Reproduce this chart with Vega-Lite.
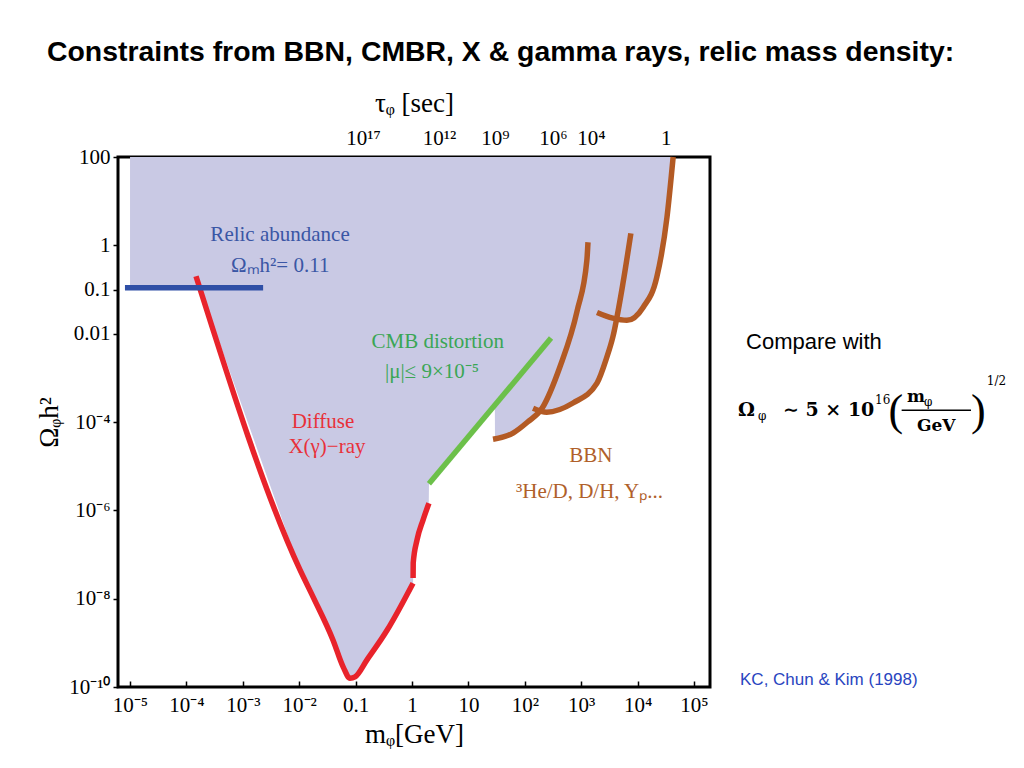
{
  "$schema": "https://vega.github.io/schema/vega-lite/v6.json",
  "width": 592,
  "height": 530,
  "autosize": {"type": "none"},
  "padding": {"left": 118, "top": 157, "right": 314, "bottom": 81},
  "background": "white",
  "title": {
    "text": "Constraints from BBN, CMBR, X & gamma rays, relic mass density:",
    "anchor": "start", "frame": "group", "dx": -71, "offset": 22,
    "font": "Liberation Sans", "fontSize": 28.4, "fontWeight": "bold", "color": "black"
  },
  "config": {
    "view": {"stroke": "black", "strokeWidth": 3},
    "axis": {
      "labelFont": "Liberation Serif", "labelFontSize": 21, "labelColor": "black",
      "titleFont": "Liberation Serif", "titleFontSize": 27, "titleFontWeight": "normal", "titleColor": "black",
      "domain": false, "grid": false, "tickColor": "black", "tickWidth": 1.5,
      "labelOverlap": false, "labelFlush": false
    }
  },
  "datasets": {
    "shade": [
      {"m": 1e-5, "omega": 0.11},
      {"m": 1.746e-4, "omega": 0.11},
      {"m": 0.01033, "omega": 4.47e-8},
      {"m": 0.01758, "omega": 1.1e-8},
      {"m": 0.0398, "omega": 1.15e-9},
      {"m": 0.0603, "omega": 2.82e-10},
      {"m": 0.0794, "omega": 1.58e-10},
      {"m": 0.0977, "omega": 1.7e-10},
      {"m": 0.158, "omega": 4.07e-10},
      {"m": 0.363, "omega": 1.95e-9},
      {"m": 1.042, "omega": 2.24e-8},
      {"m": 1.047, "omega": 2.95e-8},
      {"m": 1.059, "omega": 6.46e-8},
      {"m": 1.227, "omega": 2.14e-7},
      {"m": 1.567, "omega": 6.03e-7},
      {"m": 1.98, "omega": 1.45e-6},
      {"m": 2.0, "omega": 3.98e-6},
      {"m": 29.4, "omega": 2.4e-4},
      {"m": 29.6, "omega": 4.17e-5},
      {"m": 61.7, "omega": 5.62e-5},
      {"m": 112, "omega": 1.0e-4},
      {"m": 190, "omega": 1.74e-4},
      {"m": 245, "omega": 1.66e-4},
      {"m": 716, "omega": 2.69e-4},
      {"m": 1905, "omega": 7.59e-4},
      {"m": 2818, "omega": 2.82e-3},
      {"m": 4074, "omega": 0.0219},
      {"m": 6457, "omega": 0.02},
      {"m": 12589, "omega": 0.0398},
      {"m": 21878, "omega": 0.19},
      {"m": 33113, "omega": 4.27},
      {"m": 42658, "omega": 100}
    ],
    "lines": [
      {"series": "red1", "m": 1.479e-4, "omega": 0.1995},
      {"series": "red1", "m": 0.01033, "omega": 4.47e-8},
      {"series": "red1", "m": 0.01758, "omega": 1.1e-8},
      {"series": "red1", "m": 0.0398, "omega": 1.15e-9},
      {"series": "red1", "m": 0.0603, "omega": 2.82e-10},
      {"series": "red1", "m": 0.0794, "omega": 1.58e-10},
      {"series": "red1", "m": 0.0977, "omega": 1.7e-10},
      {"series": "red1", "m": 0.158, "omega": 4.07e-10},
      {"series": "red1", "m": 0.363, "omega": 1.95e-9},
      {"series": "red1", "m": 1.042, "omega": 2.24e-8},
      {"series": "red2", "m": 1.045, "omega": 2.95e-8},
      {"series": "red2", "m": 1.05, "omega": 6.46e-8},
      {"series": "red2", "m": 1.227, "omega": 2.14e-7},
      {"series": "red2", "m": 1.567, "omega": 6.03e-7},
      {"series": "red2", "m": 1.995, "omega": 1.45e-6},
      {"series": "green", "m": 1.995, "omega": 3.98e-6},
      {"series": "green", "m": 291.7, "omega": 7.94e-3},
      {"series": "blue", "m": 8.13e-6, "omega": 0.11},
      {"series": "blue", "m": 2.29e-3, "omega": 0.11},
      {"series": "bbn1", "m": 27.3, "omega": 4.07e-5},
      {"series": "bbn1", "m": 61.7, "omega": 5.62e-5},
      {"series": "bbn1", "m": 112, "omega": 1.0e-4},
      {"series": "bbn1", "m": 202, "omega": 2.04e-4},
      {"series": "bbn1", "m": 417, "omega": 1.74e-3},
      {"series": "bbn1", "m": 851, "omega": 0.0339},
      {"series": "bbn1", "m": 1259, "omega": 0.457},
      {"series": "bbn1", "m": 1318, "omega": 1.175},
      {"series": "bbn2", "m": 140, "omega": 2.04e-4},
      {"series": "bbn2", "m": 245, "omega": 1.66e-4},
      {"series": "bbn2", "m": 716, "omega": 2.69e-4},
      {"series": "bbn2", "m": 1905, "omega": 7.59e-4},
      {"series": "bbn2", "m": 2818, "omega": 2.82e-3},
      {"series": "bbn2", "m": 3631, "omega": 8.32e-3},
      {"series": "bbn2", "m": 5495, "omega": 0.138},
      {"series": "bbn2", "m": 7586, "omega": 1.86},
      {"series": "bbn3", "m": 1905, "omega": 0.0302},
      {"series": "bbn3", "m": 3631, "omega": 0.0224},
      {"series": "bbn3", "m": 6457, "omega": 0.02},
      {"series": "bbn3", "m": 12589, "omega": 0.0398},
      {"series": "bbn3", "m": 21878, "omega": 0.19},
      {"series": "bbn3", "m": 33113, "omega": 4.27},
      {"series": "bbn3", "m": 42658, "omega": 100}
    ],
    "annot": [
      {"grp": "relic", "m": 4.57e-3, "omega": 1.68, "text": "Relic abundance"},
      {"grp": "relic", "m": 4.6e-3, "omega": 0.335, "text": "Ωₘh²= 0.11"},
      {"grp": "cmb", "m": 2.85, "omega": 6.46e-3, "text": "CMB distortion"},
      {"grp": "cmb", "m": 2.26, "omega": 1.38e-3, "text": "|μ|≤ 9×10⁻⁵"},
      {"grp": "xray", "m": 0.0264, "omega": 1.0e-4, "text": "Diffuse"},
      {"grp": "xray", "m": 0.031, "omega": 2.69e-5, "text": "X(γ)−ray"},
      {"grp": "bbn", "m": 1486, "omega": 1.7e-5, "text": "BBN"},
      {"grp": "bbn", "m": 1400, "omega": 2.57e-6, "text": "³He/D, D/H, Yₚ..."}
    ],
    "fbig": [
      {"m": 6.03e5, "omega": 1.85e-4, "text": "Ω"},
      {"m": 3.78e6, "omega": 1.85e-4, "text": "∼  5 × 10"}
    ],
    "fmid": [
      {"m": 5.98e8, "omega": 3.64e-4, "text": "m"},
      {"m": 9.0e8, "omega": 8.03e-5, "text": "GeV"}
    ],
    "fsmall": [
      {"m": 1.36e6, "omega": 1.35e-4, "text": "φ"},
      {"m": 1.62e8, "omega": 3.11e-4, "text": "16"},
      {"m": 1.2e9, "omega": 2.8e-4, "text": "φ"},
      {"m": 1.55e10, "omega": 8.37e-4, "text": "1/2"}
    ]
  },
  "layer": [
    {
      "data": {"name": "shade"},
      "mark": {"type": "area", "color": "#c9c9e4", "opacity": 1},
      "encoding": {
        "x": {"field": "m", "type": "quantitative",
          "scale": {"type": "log", "domain": [6.12e-6, 1.92e5], "nice": false, "zero": false},
          "axis": {"orient": "bottom", "values": [1e-5, 1e-4, 1e-3, 1e-2, 0.1, 1, 10, 100, 1000, 10000, 100000],
            "labelExpr": "['10⁻⁵','10⁻⁴','10⁻³','10⁻²','0.1','1','10','10²','10³','10⁴','10⁵'][round(log(datum.value)/LN10)+5]",
            "tickSize": -6, "labelPadding": 13, "title": "mᵩ[GeV]", "titlePadding": 6}},
        "y": {"field": "omega", "type": "quantitative",
          "scale": {"type": "log", "domain": [1e-10, 100], "nice": false, "zero": false},
          "axis": {"values": [1e-10, 1e-8, 1e-6, 1e-4, 0.01, 0.1, 1, 100],
            "labelExpr": "['10⁻¹⁰','','10⁻⁸','','10⁻⁶','','10⁻⁴','','0.01','0.1','1','','100'][round(log(datum.value)/LN10)+10]",
            "tickSize": 5, "labelPadding": 3, "title": "Ωᵩh²", "titlePadding": 5}},
        "y2": {"datum": 100}
      }
    },
    {
      "data": {"name": "lines"},
      "mark": {"type": "line", "strokeWidth": 5.5, "interpolate": "monotone", "strokeCap": "butt"},
      "encoding": {
        "x": {"field": "m", "type": "quantitative",
          "scale": {"type": "log", "domain": [6.12e-6, 1.92e5], "nice": false, "zero": false},
          "axis": {"orient": "top", "values": [0.135, 3.01, 29.6, 316, 1479, 31623],
            "labelExpr": "datum.value < 1 ? '10¹⁷' : datum.value < 10 ? '10¹²' : datum.value < 100 ? '10⁹' : datum.value < 1000 ? '10⁶' : datum.value < 10000 ? '10⁴' : '1'",
            "tickSize": -6, "labelPadding": 15, "title": "τᵩ [sec]", "titlePadding": 10}},
        "y": {"field": "omega", "type": "quantitative",
          "scale": {"type": "log", "domain": [1e-10, 100], "nice": false, "zero": false}, "axis": null},
        "color": {"field": "series", "type": "nominal", "legend": null,
          "scale": {"domain": ["red1", "red2", "green", "blue", "bbn1", "bbn2", "bbn3"],
            "range": ["#e8232b", "#e8232b", "#6cc04a", "#2f4fa6", "#b35a24", "#b35a24", "#b35a24"]}}
      }
    },
    {
      "data": {"name": "annot"},
      "mark": {"type": "text", "font": "Liberation Serif", "fontSize": 21, "align": "center", "baseline": "middle"},
      "encoding": {
        "x": {"field": "m", "type": "quantitative", "scale": {"type": "log", "domain": [6.12e-6, 1.92e5], "nice": false, "zero": false}, "axis": null},
        "y": {"field": "omega", "type": "quantitative", "scale": {"type": "log", "domain": [1e-10, 100], "nice": false, "zero": false}, "axis": null},
        "text": {"field": "text"},
        "color": {"field": "grp", "type": "nominal", "legend": null,
          "scale": {"domain": ["relic", "cmb", "xray", "bbn"], "range": ["#3a56a5", "#3aa655", "#e8313a", "#b0602a"]}}
      }
    },
    {
      "data": {"values": [{"m": 8.36e5, "omega": 6.39e-3, "text": "Compare with"}]},
      "mark": {"type": "text", "font": "Liberation Sans", "fontSize": 22, "align": "left", "baseline": "middle", "color": "black"},
      "encoding": {
        "x": {"field": "m", "type": "quantitative", "scale": {"type": "log", "domain": [6.12e-6, 1.92e5], "nice": false, "zero": false}, "axis": null},
        "y": {"field": "omega", "type": "quantitative", "scale": {"type": "log", "domain": [1e-10, 100], "nice": false, "zero": false}, "axis": null},
        "text": {"field": "text"}
      }
    },
    {
      "data": {"values": [{"m": 6.54e5, "omega": 1.44e-10, "text": "KC, Chun & Kim (1998)"}]},
      "mark": {"type": "text", "font": "Liberation Sans", "fontSize": 17, "align": "left", "baseline": "middle", "color": "#2a45c0"},
      "encoding": {
        "x": {"field": "m", "type": "quantitative", "scale": {"type": "log", "domain": [6.12e-6, 1.92e5], "nice": false, "zero": false}, "axis": null},
        "y": {"field": "omega", "type": "quantitative", "scale": {"type": "log", "domain": [1e-10, 100], "nice": false, "zero": false}, "axis": null},
        "text": {"field": "text"}
      }
    },
    {
      "data": {"name": "fbig"},
      "mark": {"type": "text", "font": "DejaVu Serif", "fontWeight": "bold", "fontSize": 19, "align": "left", "baseline": "middle", "color": "black"},
      "encoding": {
        "x": {"field": "m", "type": "quantitative", "scale": {"type": "log", "domain": [6.12e-6, 1.92e5], "nice": false, "zero": false}, "axis": null},
        "y": {"field": "omega", "type": "quantitative", "scale": {"type": "log", "domain": [1e-10, 100], "nice": false, "zero": false}, "axis": null},
        "text": {"field": "text"}
      }
    },
    {
      "data": {"name": "fmid"},
      "mark": {"type": "text", "font": "DejaVu Serif", "fontWeight": "bold", "fontSize": 17, "align": "left", "baseline": "middle", "color": "black"},
      "encoding": {
        "x": {"field": "m", "type": "quantitative", "scale": {"type": "log", "domain": [6.12e-6, 1.92e5], "nice": false, "zero": false}, "axis": null},
        "y": {"field": "omega", "type": "quantitative", "scale": {"type": "log", "domain": [1e-10, 100], "nice": false, "zero": false}, "axis": null},
        "text": {"field": "text"}
      }
    },
    {
      "data": {"name": "fsmall"},
      "mark": {"type": "text", "font": "DejaVu Serif", "fontWeight": "normal", "fontSize": 12, "align": "left", "baseline": "middle", "color": "black"},
      "encoding": {
        "x": {"field": "m", "type": "quantitative", "scale": {"type": "log", "domain": [6.12e-6, 1.92e5], "nice": false, "zero": false}, "axis": null},
        "y": {"field": "omega", "type": "quantitative", "scale": {"type": "log", "domain": [1e-10, 100], "nice": false, "zero": false}, "axis": null},
        "text": {"field": "text"}
      }
    },
    {
      "data": {"values": [{"m": 3.8e8, "omega": 1.67e-4, "text": "("}, {"m": 1.1e10, "omega": 1.67e-4, "text": ")"}]},
      "mark": {"type": "text", "font": "Liberation Serif", "fontSize": 44, "align": "center", "baseline": "middle", "color": "black"},
      "encoding": {
        "x": {"field": "m", "type": "quantitative", "scale": {"type": "log", "domain": [6.12e-6, 1.92e5], "nice": false, "zero": false}, "axis": null},
        "y": {"field": "omega", "type": "quantitative", "scale": {"type": "log", "domain": [1e-10, 100], "nice": false, "zero": false}, "axis": null},
        "text": {"field": "text"}
      }
    },
    {
      "data": {"values": [{"m": 4.8e8, "m2": 8.15e9, "omega": 1.85e-4}]},
      "mark": {"type": "rule", "strokeWidth": 1.5, "color": "black"},
      "encoding": {
        "x": {"field": "m", "type": "quantitative", "scale": {"type": "log", "domain": [6.12e-6, 1.92e5], "nice": false, "zero": false}, "axis": null},
        "x2": {"field": "m2"},
        "y": {"field": "omega", "type": "quantitative", "scale": {"type": "log", "domain": [1e-10, 100], "nice": false, "zero": false}, "axis": null}
      }
    }
  ],
  "resolve": {"axis": {"x": "independent", "y": "independent"}, "scale": {"color": "independent"}}
}
